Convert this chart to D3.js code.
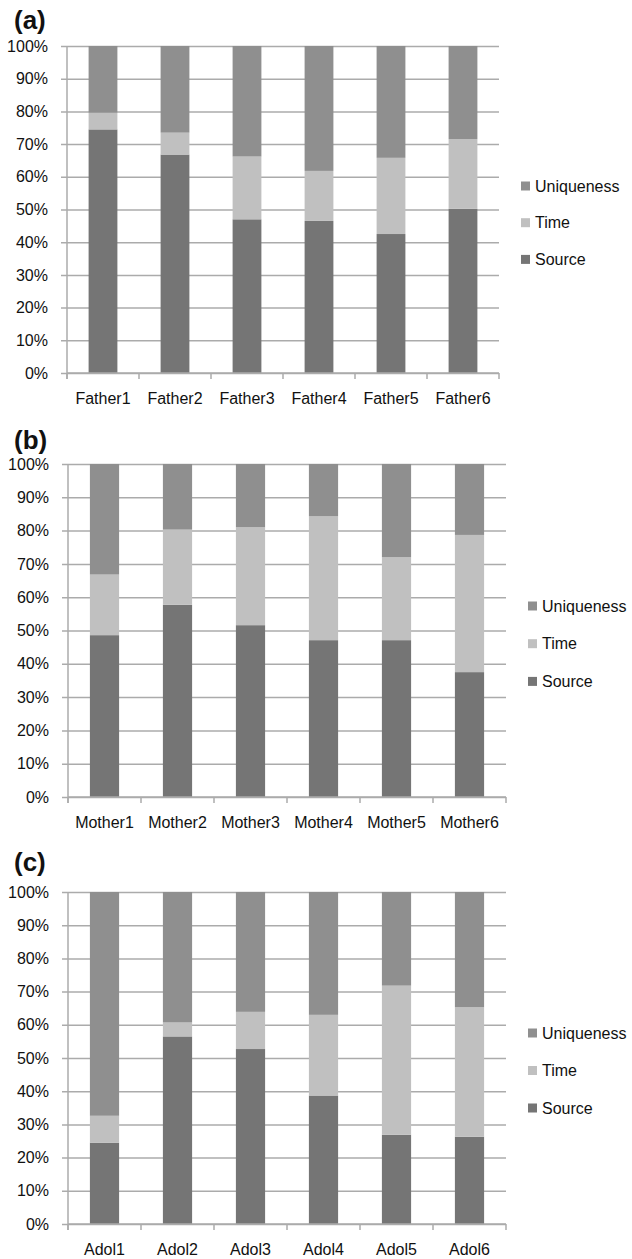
<!DOCTYPE html>
<html>
<head>
<meta charset="utf-8">
<script src="https://cdn.jsdelivr.net/npm/d3@7"></script>
<style>
  html, body { margin: 0; padding: 0; background: #fff; }
  svg { display: block; }
  text { font-family: "Liberation Sans", Arial, sans-serif; fill: #111; }
</style>
</head>
<body>
<svg id="chart" width="632" height="1259"></svg>
<script>
// Share of each component (%) per participant, stacked bottom-to-top: Source, Time, Uniqueness
const fatherLabels = ["Father1", "Father2", "Father3", "Father4", "Father5", "Father6"];
const fatherSource = [74.5, 66.8, 47.0, 46.5, 42.5, 50.2];
const fatherTime = [5.1, 6.7, 19.2, 15.3, 23.3, 21.3];
const fatherUniqueness = [20.4, 26.5, 33.8, 38.2, 34.2, 28.5];

const motherLabels = ["Mother1", "Mother2", "Mother3", "Mother4", "Mother5", "Mother6"];
const motherSource = [48.6, 57.7, 51.6, 47.1, 47.1, 37.5];
const motherTime = [18.2, 22.6, 29.4, 37.2, 24.9, 41.2];
const motherUniqueness = [33.2, 19.7, 19.0, 15.7, 28.0, 21.3];

const adolLabels = ["Adol1", "Adol2", "Adol3", "Adol4", "Adol5", "Adol6"];
const adolSource = [24.5, 56.5, 52.7, 38.7, 26.9, 26.3];
const adolTime = [8.1, 4.2, 11.2, 24.3, 44.9, 39.0];
const adolUniqueness = [67.4, 39.3, 36.1, 37.0, 28.2, 34.7];

const seriesNames = ["Source", "Time", "Uniqueness"];
const seriesColors = ["#757575", "#c0c0c0", "#8f8f8f"];
const yTickValues = [0, 10, 20, 30, 40, 50, 60, 70, 80, 90, 100];

// Panel placement on the page
const panels = [
  { tag: "(a)", labels: fatherLabels, values: [fatherSource, fatherTime, fatherUniqueness],
    left: 67, right: 499, top: 46, bottom: 373, tagY: 29, legendX: 521, legendY: 186, legendGap: 36.7 },
  { tag: "(b)", labels: motherLabels, values: [motherSource, motherTime, motherUniqueness],
    left: 68, right: 506, top: 464, bottom: 797, tagY: 449, legendX: 528, legendY: 606, legendGap: 37.7 },
  { tag: "(c)", labels: adolLabels, values: [adolSource, adolTime, adolUniqueness],
    left: 68, right: 506, top: 892, bottom: 1224, tagY: 871, legendX: 528, legendY: 1033, legendGap: 37.5 }
];

const svg = d3.select("#chart");
const gridColor = "#ababab";

panels.forEach(p => {
  const g = svg.append("g");

  const rows = p.labels.map((name, i) => {
    const row = { name };
    seriesNames.forEach((s, k) => { row[s] = p.values[k][i]; });
    return row;
  });

  const x = d3.scaleBand().domain(p.labels).range([p.left, p.right]).paddingInner(0.6).paddingOuter(0.3);
  const xCell = d3.scaleBand().domain(p.labels).range([p.left, p.right]);
  const y = d3.scaleLinear().domain([0, 100]).range([p.bottom, p.top]);

  // horizontal gridlines with short outside ticks, plus percentage labels
  const yAxis = d3.axisLeft(y)
    .tickValues(yTickValues)
    .tickFormat(d => d + "%")
    .tickSize(-(p.right - p.left + 6))
    .tickPadding(13);
  const ya = g.append("g").attr("transform", `translate(${p.left - 6},0)`).call(yAxis);
  ya.select(".domain").remove();
  ya.selectAll(".tick line").attr("stroke", gridColor).attr("stroke-width", 1.5);
  ya.selectAll(".tick text").attr("font-size", 16).attr("fill", "#111")
    .style("font-family", "'Liberation Sans', Arial, sans-serif");

  // vertical axis line
  g.append("line")
    .attr("x1", p.left).attr("x2", p.left)
    .attr("y1", y(100)).attr("y2", y(0) + 6)
    .attr("stroke", gridColor).attr("stroke-width", 1.5);

  // stacked bars
  const stacked = d3.stack().keys(seriesNames)(rows);
  g.append("g").selectAll("g")
    .data(stacked)
    .join("g")
    .attr("fill", (d, i) => seriesColors[i])
    .selectAll("rect")
    .data(d => d)
    .join("rect")
    .attr("x", d => x(d.data.name))
    .attr("width", x.bandwidth())
    .attr("y", d => y(d[1]))
    .attr("height", d => y(d[0]) - y(d[1]));

  // category axis: baseline, ticks on category boundaries, centered labels
  g.append("line")
    .attr("x1", p.left).attr("x2", p.right)
    .attr("y1", y(0)).attr("y2", y(0))
    .attr("stroke", gridColor).attr("stroke-width", 1.5);
  const bounds = p.labels.map(l => xCell(l)).concat([p.right]);
  g.append("g").selectAll("line")
    .data(bounds)
    .join("line")
    .attr("x1", d => d).attr("x2", d => d)
    .attr("y1", y(0)).attr("y2", y(0) + 6)
    .attr("stroke", gridColor).attr("stroke-width", 1.5);
  g.append("g").selectAll("text")
    .data(p.labels)
    .join("text")
    .attr("x", d => xCell(d) + xCell.bandwidth() / 2)
    .attr("y", y(0) + 31)
    .attr("text-anchor", "middle")
    .attr("font-size", 16)
    .text(d => d);

  // panel tag
  g.append("text")
    .attr("x", 14).attr("y", p.tagY)
    .attr("font-size", 26).attr("font-weight", "bold")
    .text(p.tag);

  // legend, top entry is the top segment
  const legendOrder = seriesNames.slice().reverse();
  const lg = g.append("g").selectAll("g")
    .data(legendOrder)
    .join("g")
    .attr("transform", (d, i) => `translate(${p.legendX},${p.legendY + i * p.legendGap})`);
  lg.append("rect")
    .attr("x", 0).attr("y", -4.5).attr("width", 9).attr("height", 9)
    .attr("fill", d => seriesColors[seriesNames.indexOf(d)]);
  lg.append("text")
    .attr("x", 14).attr("y", 0).attr("dy", "0.35em")
    .attr("font-size", 16)
    .text(d => d);
});
</script>
</body>
</html>
